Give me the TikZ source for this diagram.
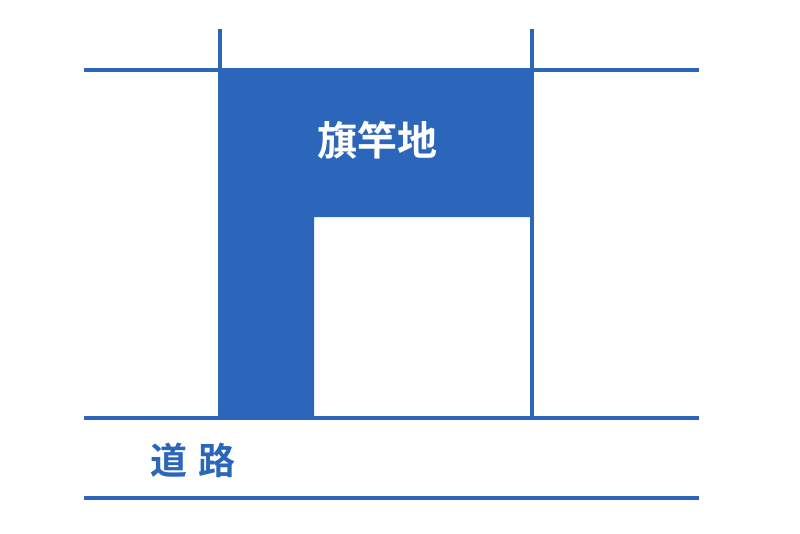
\documentclass[tikz,border=0pt]{standalone}
\usepackage{fontspec}
\newfontfamily\cjk{Noto Sans CJK JP}
\newfontfamily\cjkb{Noto Sans CJK JP Bold}
\definecolor{plotblue}{RGB}{44,102,186}
\begin{document}
\begin{tikzpicture}[x=1pt,y=-1pt,
  boundary/.style={draw=plotblue,line width=3.5pt},
  lot/.style={fill=plotblue}]
\useasboundingbox (0,0) rectangle (800,533);
% flag-shaped lot
\fill[lot] (218,68) -- (533,68) -- (533,217) -- (314,217) -- (314,418) -- (218,418) -- cycle;
% boundaries
\draw[boundary] (84,70) -- (699,70);
\draw[boundary] (84,418) -- (699,418);
\draw[boundary] (84,498) -- (699,498);
\draw[boundary] (220,29) -- (220,418);
\draw[boundary] (532,29) -- (532,418);
% labels
\node[text=white,font=\cjkb\fontsize{40}{40}\selectfont] (flag) at (377,140) {旗竿地};
\node[text=plotblue,font=\cjkb\fontsize{37}{37}\selectfont] (road) at (193,460) {道\hspace{12pt}路};
\end{tikzpicture}
\end{document}
